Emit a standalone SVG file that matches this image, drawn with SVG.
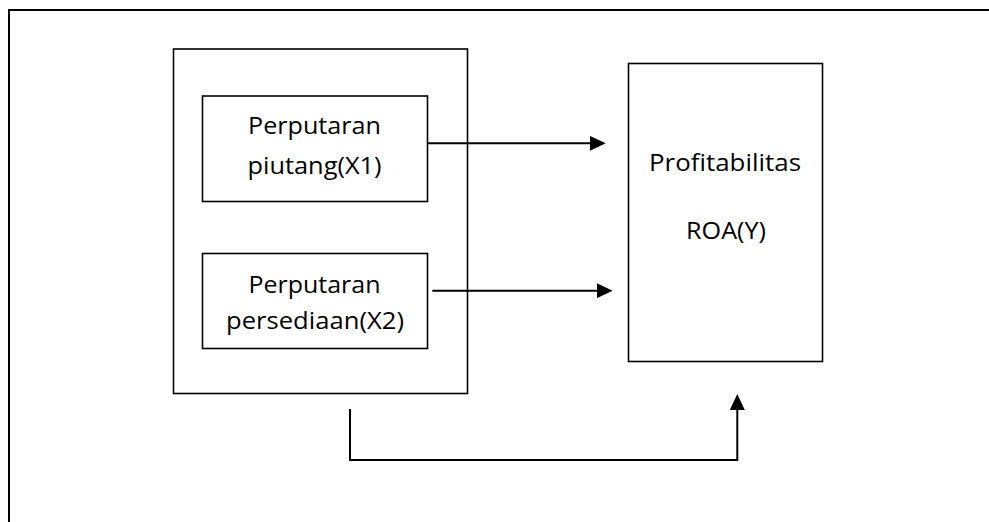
<svg xmlns="http://www.w3.org/2000/svg" width="989" height="522" viewBox="0 0 989 522">
<style>
.box{fill:#fff;stroke:#000;stroke-width:1.6}
.frame{fill:none;stroke:#000;stroke-width:2}
.lbl{font-family:"Open Sans","Noto Sans","Liberation Sans",sans-serif;font-size:23.5px;fill:#000;text-anchor:middle}
.conn{fill:none;stroke:#000;stroke-width:2}
</style>
<defs>
<marker id="ah" markerUnits="userSpaceOnUse" markerWidth="16" markerHeight="15" viewBox="0 0 16 15" refX="8" refY="7.5" orient="auto">
<path d="M0,0 L16,7.5 L0,15 Z" fill="#000"/>
</marker>
</defs>
<rect width="989" height="522" fill="#fff"/>
<rect class="frame" x="9" y="10" width="1000" height="540"/>
<g id="group-x">
<rect class="box" x="173.5" y="49" width="294" height="344.5"/>
</g>
<g id="node-x1">
<rect class="box" x="202.5" y="96" width="225" height="105.5"/>
<text class="lbl" x="314.5" y="133.5" textLength="133" lengthAdjust="spacingAndGlyphs">Perputaran</text>
<text class="lbl" x="314.5" y="173.5" textLength="134" lengthAdjust="spacingAndGlyphs">piutang(X1)</text>
</g>
<g id="node-x2">
<rect class="box" x="202.5" y="253.5" width="225" height="95"/>
<text class="lbl" x="314.5" y="292.5" textLength="132" lengthAdjust="spacingAndGlyphs">Perputaran</text>
<text class="lbl" x="315" y="329" textLength="178" lengthAdjust="spacingAndGlyphs">persediaan(X2)</text>
</g>
<g id="node-y">
<rect class="box" x="628.5" y="63.5" width="194" height="298"/>
<text class="lbl" x="725" y="170.5" textLength="152" lengthAdjust="spacingAndGlyphs">Profitabilitas</text>
<text class="lbl" x="726" y="239" textLength="80" lengthAdjust="spacingAndGlyphs">ROA(Y)</text>
</g>
<g id="connectors">
<line class="conn" x1="427.5" y1="143.3" x2="597.7" y2="143.3" marker-end="url(#ah)"/>
<line class="conn" x1="432.3" y1="290.7" x2="604.7" y2="290.7" marker-end="url(#ah)"/>
<path class="conn" d="M350,409 V460 H737.3 V402" marker-end="url(#ah)"/>
</g>
</svg>
